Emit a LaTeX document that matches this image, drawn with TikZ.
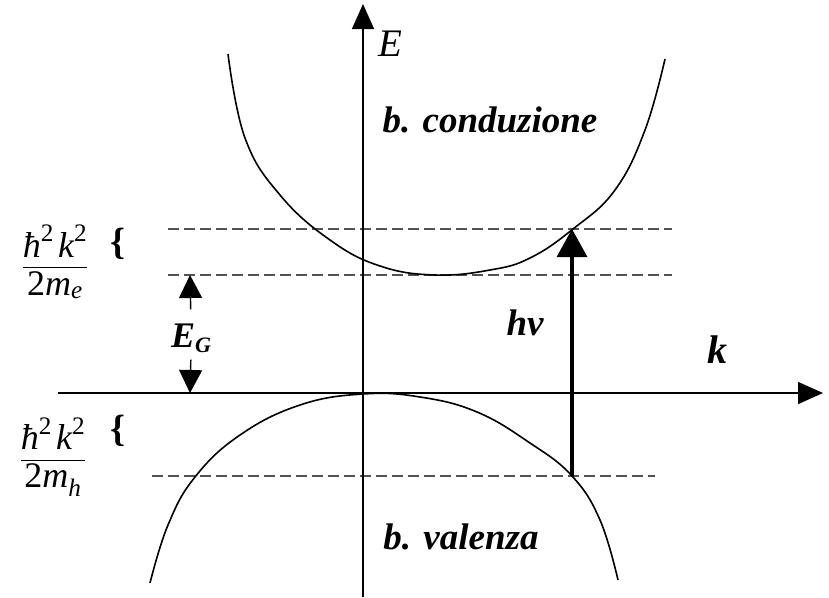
\documentclass[tikz,border=0pt]{standalone}
\usepackage{fontspec}
\setmainfont{Liberation Serif}
\usepackage{amsmath}
\usetikzlibrary{positioning, arrows.meta}

\tikzstyle{band} = [line width=1.6pt]
\tikzstyle{axisline} = [
line width=1.5pt,
-{Triangle[length=25pt,width=22pt]}
]
\tikzstyle{dashlevel} = [
line width=2.4pt,
dash pattern=on 11pt off 5pt,
draw=black!68
]
\tikzstyle{photon} = [
line width=3.2pt,
-{Triangle[length=28pt,width=30pt]}
]
\tikzstyle{gaparrow} = [
line width=1.4pt,
-{Triangle[length=23pt,width=23pt]}
]
\tikzstyle{bandname} = [
font=\fontsize{37}{40}\selectfont\bfseries\itshape,
inner sep=0pt
]
\tikzstyle{fraclabel} = [
font=\fontsize{36}{40}\selectfont,
inner sep=0pt
]
\tikzstyle{brace} = [
font=\fontsize{38}{40}\selectfont\bfseries,
inner sep=0pt
]

\begin{document}
\begin{tikzpicture}[x=1pt,y=-1pt]
        \useasboundingbox (0,0) rectangle (829,597);
        
        % assi
        \coordinate (Ebot) at (363,597);
        \coordinate (Etop) at (363,4);
        \coordinate (kleft) at (58,393);
        \coordinate (kright) at (823,393);
        
        % livelli
        \coordinate (c1a) at (168,229);
        \coordinate (c1b) at (672,229);
        \coordinate (c0a) at (168,275);
        \coordinate (c0b) at (672,275);
        \coordinate (v1a) at (152,476);
        \coordinate (v1b) at (655,476);
        
        \draw [dashlevel] (c1a)--(c1b);
        \draw [dashlevel] (c0a)--(c0b);
        \draw [dashlevel] (v1a)--(v1b);
        
        \draw [axisline] (Ebot)--(Etop);
        \draw [axisline] (kleft)--(kright);
        
        % bande
        \draw [band] plot[smooth, tension=0.7] coordinates {
        (228,54) (245,138) (280,195) (330,240) (380,266) (435,275)
        (490,270) (530,258) (573,229) (615,190) (645,130) (665,59)};
        
        \draw [band] plot[smooth, tension=0.7] coordinates {
        (150,583) (168,525) (195,477) (240,435) (300,405) (363,394)
        (420,397) (477,412) (530,443) (572,476) (600,520) (618,580)};
        
        % testi
        \node (Elab) [bandname, font=\fontsize{39}{42}\selectfont\itshape]
        at (390,44) {E};
        
        \node (cond) [bandname] at (490,120) {b. conduzione};
        
        \node (val) [bandname] at (461,537) {b. valenza};
        
        \node (hnu) [bandname] at (525,323) {hν};
        
        \node (klab) [bandname, font=\fontsize{40}{44}\selectfont\bfseries\itshape]
        at (717,350) {k};
        
        \node (EG) [bandname, font=\fontsize{36}{40}\selectfont\bfseries\itshape]
        at (191,338) {E\raisebox{-5pt}{\fontsize{22}{24}\selectfont G}};
        
        \node (me) [fraclabel] at (55,262)
        {$\dfrac{\textit{ħ}^{\textup{2}}\,\textit{k}^{\textup{2}}}{\textup{2}\textit{m}_{\textit{e}}}$};
        \node (bre) [brace] at (118,244) {\{};
        
        \node (mh) [fraclabel] at (53,457)
        {$\dfrac{\textit{ħ}^{\textup{2}}\,\textit{k}^{\textup{2}}}{\textup{2}\textit{m}_{\textit{h}}}$};
        \node (brh) [brace] at (118,431) {\{};
        
        % frecce
        \coordinate (cb) at (190,275);
        \coordinate (vb) at (190,393);
        \draw [gaparrow, shorten <=14pt] (EG.north)--(cb);
        \draw [gaparrow, shorten <=7pt] (EG.south)--(vb);
        
        \coordinate (vk) at (572,476);
        \coordinate (ck) at (572,229);
        \draw [photon] (vk)--(ck);
        
        \end{tikzpicture}
\end{document}
